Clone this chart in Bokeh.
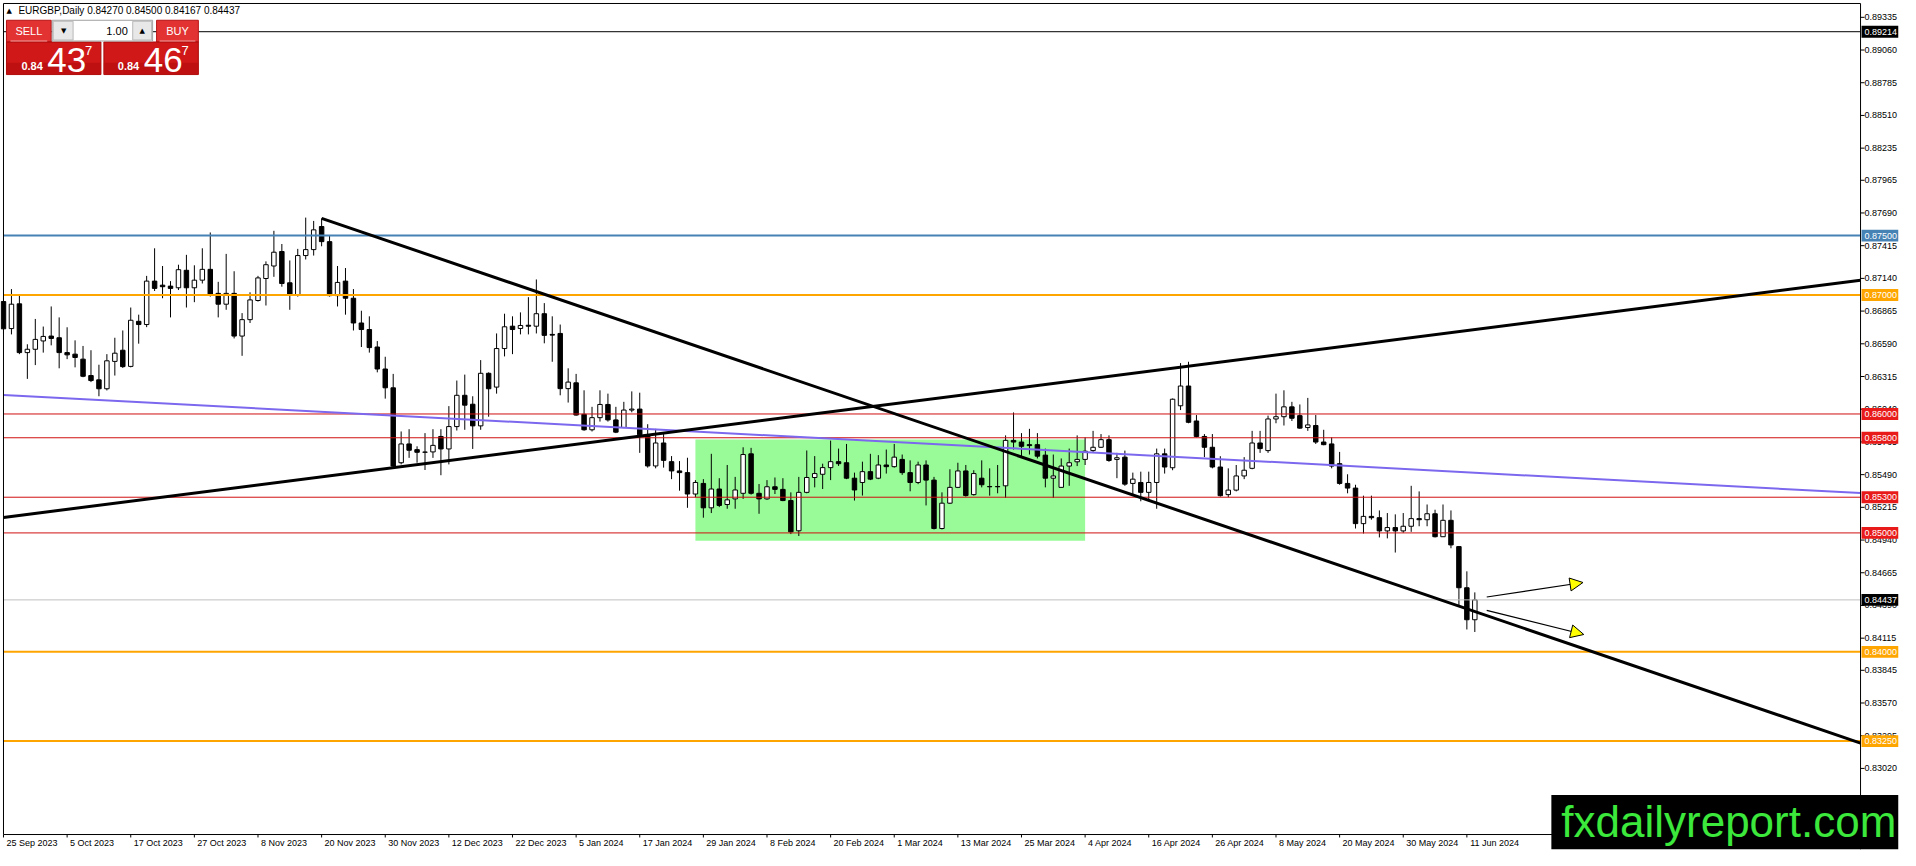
from bokeh.plotting import figure
from bokeh.models import (Range1d, FixedTicker, PrintfTickFormatter, Label, BoxAnnotation,
                          Arrow, NormalHead, ColumnDataSource)
from bokeh.embed import file_html
from bokeh.resources import INLINE
from bokeh.core.properties import value

# ---------------- data ----------------
symbol = "EURGBP,Daily"

opens = [
    0.86945, 0.86718, 0.86926, 0.86516, 0.86544, 0.86614, 0.86655, 0.86641, 0.86516, 0.86503,
    0.86461, 0.86323, 0.86287, 0.86212, 0.86442, 0.86536, 0.86400, 0.86779, 0.86752, 0.87117,
    0.87083, 0.87075, 0.87061, 0.87208, 0.87061, 0.87125, 0.87216, 0.87014, 0.86923, 0.87014,
    0.86655, 0.86793, 0.86954, 0.87139, 0.87244, 0.87366, 0.87103, 0.87000, 0.87332, 0.87382,
    0.87576, 0.87449, 0.86995, 0.87117, 0.86973, 0.86765, 0.86710, 0.86563, 0.86378, 0.86220,
    0.85590, 0.85748, 0.85700, 0.85678, 0.85681, 0.85811, 0.85706, 0.85894, 0.86157, 0.86082,
    0.85900, 0.86342, 0.86226, 0.86550, 0.86738, 0.86719, 0.86746, 0.86738, 0.86843, 0.86669,
    0.86677, 0.86213, 0.86262, 0.85997, 0.85867, 0.85969, 0.86080, 0.85950, 0.85886, 0.86033,
    0.86041, 0.85825, 0.85563, 0.85756, 0.85599, 0.85521, 0.85507, 0.85327, 0.85416, 0.85211,
    0.85369, 0.85239, 0.85286, 0.85333, 0.85665, 0.85333, 0.85286, 0.85388, 0.85366, 0.85272,
    0.85018, 0.85341, 0.85466, 0.85493, 0.85549, 0.85599, 0.85590, 0.85460, 0.85424, 0.85515,
    0.85460, 0.85571, 0.85557, 0.85618, 0.85507, 0.85424, 0.85571, 0.85444, 0.85037, 0.85250,
    0.85383, 0.85521, 0.85322, 0.85460, 0.85390, 0.85390, 0.85396, 0.85778, 0.85764, 0.85742,
    0.85742, 0.85654, 0.85460, 0.85383, 0.85562, 0.85598, 0.85618, 0.85692, 0.85720, 0.85784,
    0.85618, 0.85637, 0.85416, 0.85424, 0.85341, 0.85424, 0.85665, 0.85548, 0.86069, 0.86235,
    0.85941, 0.85811, 0.85720, 0.85554, 0.85322, 0.85360, 0.85479, 0.85543, 0.85756, 0.85692,
    0.85958, 0.85977, 0.86060, 0.85986, 0.85886, 0.85903, 0.85764, 0.85748, 0.85582, 0.85416,
    0.85377, 0.85078, 0.85139, 0.85128, 0.85017, 0.85045, 0.85017, 0.85056, 0.85120, 0.85111,
    0.85161, 0.84968, 0.85106, 0.84885, 0.84539, 0.84270,
]
highs = [
    0.86987, 0.87050, 0.86992, 0.86586, 0.86799, 0.86735, 0.86904, 0.86812, 0.86729, 0.86619,
    0.86572, 0.86536, 0.86414, 0.86503, 0.86641, 0.86702, 0.86895, 0.86835, 0.87161, 0.87393,
    0.87244, 0.87117, 0.87255, 0.87338, 0.87250, 0.87393, 0.87526, 0.87111, 0.87346, 0.87200,
    0.86848, 0.87023, 0.87161, 0.87283, 0.87540, 0.87429, 0.87291, 0.87388, 0.87651, 0.87623,
    0.87645, 0.87498, 0.87244, 0.87227, 0.87050, 0.86868, 0.86821, 0.86613, 0.86481, 0.86337,
    0.85853, 0.85872, 0.85728, 0.85839, 0.85872, 0.85872, 0.86066, 0.86281, 0.86331, 0.86149,
    0.86453, 0.86350, 0.86677, 0.86843, 0.86821, 0.86854, 0.86982, 0.87131, 0.86932, 0.86821,
    0.86752, 0.86384, 0.86337, 0.86199, 0.86060, 0.86199, 0.86171, 0.86060, 0.86102, 0.86190,
    0.86179, 0.85914, 0.85875, 0.85831, 0.85646, 0.85604, 0.85632, 0.85444, 0.85452, 0.85665,
    0.85460, 0.85571, 0.85471, 0.85720, 0.85715, 0.85411, 0.85444, 0.85466, 0.85460, 0.85341,
    0.85471, 0.85693, 0.85646, 0.85582, 0.85776, 0.85709, 0.85748, 0.85507, 0.85599, 0.85665,
    0.85654, 0.85701, 0.85748, 0.85659, 0.85610, 0.85599, 0.85610, 0.85471, 0.85341, 0.85535,
    0.85590, 0.85571, 0.85527, 0.85610, 0.85543, 0.85571, 0.85820, 0.86013, 0.85839, 0.85875,
    0.85839, 0.85709, 0.85659, 0.85626, 0.85709, 0.85820, 0.85803, 0.85858, 0.85831, 0.85820,
    0.85673, 0.85692, 0.85507, 0.85515, 0.85515, 0.85709, 0.85709, 0.86130, 0.86428, 0.86439,
    0.85991, 0.85831, 0.85831, 0.85645, 0.85543, 0.85571, 0.85637, 0.85858, 0.85858, 0.85986,
    0.86171, 0.86199, 0.86102, 0.86080, 0.86135, 0.85991, 0.85867, 0.85803, 0.85681, 0.85493,
    0.85405, 0.85313, 0.85313, 0.85189, 0.85167, 0.85156, 0.85167, 0.85396, 0.85349, 0.85239,
    0.85195, 0.85239, 0.85189, 0.84890, 0.84677, 0.84500,
]
lows = [
    0.86674, 0.86669, 0.86503, 0.86295, 0.86411, 0.86516, 0.86577, 0.86384, 0.86461, 0.86392,
    0.86309, 0.86268, 0.86149, 0.86198, 0.86323, 0.86387, 0.86392, 0.86591, 0.86730, 0.87034,
    0.86973, 0.86812, 0.87042, 0.86895, 0.86940, 0.87097, 0.86987, 0.86812, 0.86876, 0.86635,
    0.86489, 0.86765, 0.86945, 0.86912, 0.87153, 0.87070, 0.86876, 0.86987, 0.87299, 0.87332,
    0.87410, 0.86987, 0.86904, 0.86835, 0.86702, 0.86563, 0.86516, 0.86350, 0.86129, 0.85548,
    0.85576, 0.85631, 0.85590, 0.85529, 0.85631, 0.85485, 0.85576, 0.85861, 0.85867, 0.85706,
    0.85867, 0.85977, 0.86171, 0.86484, 0.86503, 0.86669, 0.86669, 0.86677, 0.86594, 0.86439,
    0.86157, 0.86096, 0.85986, 0.85859, 0.85853, 0.85936, 0.85936, 0.85839, 0.85881, 0.86014,
    0.85673, 0.85549, 0.85543, 0.85549, 0.85452, 0.85355, 0.85211, 0.85300, 0.85128, 0.85167,
    0.85217, 0.85203, 0.85203, 0.85286, 0.85322, 0.85161, 0.85278, 0.85327, 0.85267, 0.84990,
    0.84974, 0.85333, 0.85383, 0.85369, 0.85444, 0.85563, 0.85452, 0.85272, 0.85314, 0.85444,
    0.85452, 0.85499, 0.85549, 0.85488, 0.85350, 0.85410, 0.85231, 0.85029, 0.85029, 0.85244,
    0.85377, 0.85305, 0.85314, 0.85383, 0.85313, 0.85333, 0.85294, 0.85701, 0.85645, 0.85659,
    0.85626, 0.85383, 0.85294, 0.85383, 0.85396, 0.85562, 0.85571, 0.85681, 0.85714, 0.85598,
    0.85460, 0.85396, 0.85313, 0.85266, 0.85266, 0.85203, 0.85499, 0.85527, 0.86033, 0.85922,
    0.85803, 0.85637, 0.85543, 0.85305, 0.85300, 0.85349, 0.85452, 0.85535, 0.85673, 0.85673,
    0.85922, 0.85903, 0.85941, 0.85875, 0.85858, 0.85748, 0.85737, 0.85543, 0.85405, 0.85333,
    0.85037, 0.84995, 0.85111, 0.84962, 0.84954, 0.84835, 0.85001, 0.85009, 0.85056, 0.85056,
    0.84962, 0.84968, 0.84871, 0.84392, 0.84188, 0.84167,
]
closes = [
    0.86716, 0.86923, 0.86516, 0.86544, 0.86627, 0.86652, 0.86635, 0.86516, 0.86497, 0.86475,
    0.86317, 0.86281, 0.86212, 0.86447, 0.86511, 0.86398, 0.86788, 0.86752, 0.87117, 0.87056,
    0.87070, 0.87056, 0.87213, 0.87061, 0.87125, 0.87216, 0.87006, 0.86923, 0.87014, 0.86655,
    0.86793, 0.86959, 0.87144, 0.87255, 0.87360, 0.87097, 0.87006, 0.87332, 0.87382, 0.87548,
    0.87449, 0.86995, 0.87106, 0.86973, 0.86765, 0.86710, 0.86558, 0.86378, 0.86220, 0.85562,
    0.85748, 0.85695, 0.85678, 0.85680, 0.85736, 0.85706, 0.85894, 0.86157, 0.86074, 0.85900,
    0.86342, 0.86212, 0.86550, 0.86733, 0.86710, 0.86744, 0.86738, 0.86843, 0.86661, 0.86663,
    0.86213, 0.86268, 0.85991, 0.85867, 0.85969, 0.86080, 0.85950, 0.85847, 0.86033, 0.86041,
    0.85825, 0.85563, 0.85756, 0.85610, 0.85521, 0.85507, 0.85327, 0.85424, 0.85211, 0.85369,
    0.85231, 0.85278, 0.85361, 0.85659, 0.85333, 0.85286, 0.85388, 0.85366, 0.85272, 0.85009,
    0.85341, 0.85466, 0.85499, 0.85549, 0.85599, 0.85582, 0.85460, 0.85361, 0.85515, 0.85452,
    0.85571, 0.85557, 0.85637, 0.85507, 0.85424, 0.85571, 0.85444, 0.85037, 0.85250, 0.85383,
    0.85521, 0.85314, 0.85499, 0.85405, 0.85388, 0.85388, 0.85778, 0.85764, 0.85728, 0.85734,
    0.85645, 0.85460, 0.85479, 0.85562, 0.85590, 0.85618, 0.85687, 0.85720, 0.85784, 0.85609,
    0.85632, 0.85410, 0.85452, 0.85341, 0.85424, 0.85665, 0.85554, 0.86124, 0.86235, 0.85930,
    0.85811, 0.85720, 0.85554, 0.85313, 0.85360, 0.85479, 0.85527, 0.85756, 0.85709, 0.85958,
    0.85977, 0.86060, 0.85964, 0.85881, 0.85908, 0.85764, 0.85742, 0.85562, 0.85416, 0.85377,
    0.85078, 0.85139, 0.85128, 0.85017, 0.85045, 0.85017, 0.85056, 0.85120, 0.85111, 0.85161,
    0.84968, 0.85106, 0.84899, 0.84539, 0.84270, 0.84437,
]

date_labels = ["25 Sep 2023", "5 Oct 2023", "17 Oct 2023", "27 Oct 2023", "8 Nov 2023",
               "20 Nov 2023", "30 Nov 2023", "12 Dec 2023", "22 Dec 2023", "5 Jan 2024",
               "17 Jan 2024", "29 Jan 2024", "8 Feb 2024", "20 Feb 2024", "1 Mar 2024",
               "13 Mar 2024", "25 Mar 2024", "4 Apr 2024", "16 Apr 2024", "26 Apr 2024",
               "8 May 2024", "20 May 2024", "30 May 2024", "11 Jun 2024"]
date_ticks = [0, 8, 16, 24, 32, 40, 48, 56, 64, 72, 80, 88, 96, 104, 112, 120,
              128, 136, 144, 152, 160, 168, 176, 184]

price_ticks = [0.89335, 0.89060, 0.88785, 0.88510, 0.88235, 0.87965, 0.87690, 0.87415,
               0.87140, 0.86865, 0.86590, 0.86315, 0.86040, 0.85765, 0.85490, 0.85215,
               0.84940, 0.84665, 0.84390, 0.84115, 0.83845, 0.83570, 0.83295, 0.83020,
               0.82745]

black_levels = [0.89214]
blue_levels = [0.87500]
orange_levels = [0.87000, 0.84000, 0.83250]
red_levels = [0.86000, 0.85800, 0.85300, 0.85000]
current_price = 0.84437
sell_price = 0.84437
buy_price = 0.84467
lot_size = 1.00

# analysis objects (bar index, price)
down_trend_x = [40, 233.5]
down_trend_y = [0.87645, 0.83233]
up_trend_x = [0, 233.5]
up_trend_y = [0.85130, 0.87124]
mid_line_x = [0, 233.5]
mid_line_y = [0.86160, 0.85335]
range_box_x = [87, 136]
range_box_y = [0.84935, 0.85785]
arrow_x0 = [186.5, 186.5]
arrow_y0 = [0.84461, 0.84349]
arrow_x1 = [198.6, 198.7]
arrow_y1 = [0.84583, 0.84146]

# ---------------- layout helpers ----------------
W, H = 1900, 850
FONT = "Liberation Sans"


def X(px):
    """reference-picture pixel column -> bar index"""
    return (px - 3) / 8.0


def Y(py):
    """reference-picture pixel row -> price"""
    return 0.89335 - (py - 17) / 12051.0


# chart area of the reference (3..1871 x 3..845) is placed on canvas 3..1862 x 3..835
A = (1862.0 - 3) / (1871 - 3)
B = (835.0 - 3) / (845 - 3)
PXB = 8.0 * A                   # canvas pixels per bar
CH_L, CH_R = X(3), X(1871)
CH_T, CH_B = Y(3), Y(845)
R_LEFT, R_RIGHT = X(3 - 3 / A), X(3 + (W - 3) / A)
R_BOTTOM, R_TOP = Y(3 + (H - 3) / B), Y(3 - 3 / B)

p = figure(width=W, height=H, x_range=Range1d(R_LEFT, R_RIGHT),
           y_range=Range1d(R_BOTTOM, R_TOP),
           output_backend="svg", toolbar_location=None, y_axis_location="right",
           min_border_left=0, min_border_top=0, min_border_right=0, min_border_bottom=0,
           background_fill_color="white", border_fill_color="white", outline_line_color=None)
p.grid.visible = False

# ---- axes: real Bokeh axes, labels drawn inside the price / time columns ----
CW = {"0": .556, "1": .556, "2": .556, "3": .556, "4": .556, "5": .556, "6": .556, "7": .556,
      "8": .556, "9": .556, " ": .278, "S": .667, "O": .778, "N": .722, "D": .722, "J": .5,
      "F": .611, "M": .833, "A": .667, "e": .556, "p": .556, "c": .5, "t": .278, "o": .556,
      "v": .5, "a": .556, "n": .556, "b": .556, "r": .333, "y": .5, "u": .556}
label_centers = [round(t + (3 + 9 * sum(CW.get(ch, .556) for ch in s) / 2) / PXB, 3)
                 for t, s in zip(date_ticks, date_labels)]
p.xaxis.ticker = FixedTicker(ticks=label_centers)
p.xaxis.major_label_overrides = {c: s for c, s in zip(label_centers, date_labels)}
p.xaxis.major_label_standoff = -12
p.yaxis.ticker = FixedTicker(ticks=price_ticks)
p.yaxis.formatter = PrintfTickFormatter(format="%.5f")
p.yaxis.major_label_standoff = -34
for ax in (p.xaxis, p.yaxis):
    ax.axis_line_color = None
    ax.major_tick_line_color = None
    ax.minor_tick_line_color = None
    ax.major_tick_in = 0
    ax.major_tick_out = 0
    ax.major_label_text_font = FONT
    ax.major_label_text_font_size = "9px"
    ax.major_label_text_color = "black"

# range rectangle (background)
p.quad(left=[range_box_x[0]], right=[range_box_x[1]], bottom=[range_box_y[0]], top=[range_box_y[1]],
       fill_color="#98FB98", line_color=None)

# candles
xs = list(range(len(opens)))
body_top = [max(o, c) for o, c in zip(opens, closes)]
body_bot = [min(o, c) for o, c in zip(opens, closes)]
fills = ["white" if c >= o else "black" for o, c in zip(opens, closes)]
src = ColumnDataSource(dict(x=xs, h=highs, l=lows, t=body_top, b=body_bot, f=fills))
p.segment(x0="x", y0="l", x1="x", y1="h", source=src, line_color="black", line_width=1)
p.vbar(x="x", width=0.56, top="t", bottom="b", source=src, fill_color="f",
       line_color="black", line_width=1)


# horizontal levels (stop at the price scale)
def hlines(levels, color, width):
    p.segment(x0=[CH_L] * len(levels), x1=[CH_R] * len(levels), y0=levels, y1=levels,
              line_color=color, line_width=width)


hlines(black_levels, "black", 1)
hlines(blue_levels, "#4682B4", 2)
hlines(orange_levels, "#FFA500", 2)
hlines(red_levels, "#D01010", 1)
hlines([current_price], "#C0C0C0", 1)

# trend lines
p.line(mid_line_x, mid_line_y, line_color="#7B68EE", line_width=2)
p.line(up_trend_x, up_trend_y, line_color="black", line_width=3)
p.line(down_trend_x, down_trend_y, line_color="black", line_width=3)

# chart frame: left / top borders, time axis line, price axis line and tick marks
p.segment(x0=[CH_L, CH_L, CH_L, CH_R], y0=[CH_B, CH_T, CH_B, R_BOTTOM],
          x1=[CH_L, CH_R, CH_R, CH_R], y1=[CH_T, CH_T, CH_B, CH_T],
          line_color="black", line_width=1)
p.segment(x0=[CH_R] * len(price_ticks), x1=[CH_R + 4 / 8.0] * len(price_ticks),
          y0=price_ticks, y1=price_ticks, line_color="black", line_width=1)
p.segment(x0=date_ticks, x1=date_ticks, y0=[CH_B] * len(date_ticks),
          y1=[Y(848)] * len(date_ticks), line_color="black", line_width=1)

# arrows
asrc = ColumnDataSource(dict(x0=arrow_x0, y0=arrow_y0, x1=arrow_x1, y1=arrow_y1))
p.add_layout(Arrow(end=NormalHead(size=13, fill_color="yellow", line_color="black", line_width=1),
                   x_start="x0", y_start="y0", x_end="x1", y_end="y1", source=asrc,
                   line_color="black", line_width=1.2))

# price tags on the price scale
tags = ([(v, "black") for v in black_levels] + [(v, "#4682B4") for v in blue_levels] +
        [(v, "#FFA500") for v in orange_levels] + [(v, "#E81A1A") for v in red_levels] +
        [(current_price, "black")])
half = 6 / 12051.0
for v, col in tags:
    p.add_layout(BoxAnnotation(left=CH_R + 1 / 8.0, right=R_RIGHT, top=v + half,
                               bottom=v - half, fill_color=col, fill_alpha=1.0, line_color=None))
    p.add_layout(Label(x=CH_R, y=v, x_offset=4, text="%.5f" % v, text_font=FONT,
                       text_font_size="9px", text_color="white", text_align="left",
                       text_baseline="middle"))

# ---------------- one-click trading panel ----------------
p.quad(left=[X(6), X(157)], right=[X(51), X(199)], top=[Y(20), Y(20)], bottom=[Y(42), Y(42)],
       fill_color="#E23232", line_color="#B81414")
p.quad(left=[X(6), X(104)], right=[X(101), X(199)], top=[Y(42), Y(42)], bottom=[Y(75), Y(75)],
       fill_color="#D01818", line_color="#A80C0C")
p.quad(left=[X(6), X(104)], right=[X(101), X(199)], top=[Y(63), Y(63)], bottom=[Y(75), Y(75)],
       fill_color="#BE1010", line_color=None)
p.quad(left=[X(52)], right=[X(153)], top=[Y(20)], bottom=[Y(41)],
       fill_color="white", line_color="#A0A0A0")
p.quad(left=[X(53), X(133)], right=[X(73), X(152)], top=[Y(21), Y(21)], bottom=[Y(40), Y(40)],
       fill_color="#E8E8E8", line_color="#B8B8B8")
p.segment(x0=[X(10), X(160)], y0=[Y(41), Y(41)], x1=[X(47), X(196)], y1=[Y(41), Y(41)],
          line_color="#F4A0A0", line_width=1)

p.text(x=[X(28.5), X(178)], y=[Y(31), Y(31)], text=["SELL", "BUY"], text_color="white",
       text_font=value(FONT), text_font_size=value("11px"), text_align="center",
       text_baseline="middle")
p.text(x=[X(63.5), X(142.5)], y=[Y(30.5), Y(30.5)], text=["▼", "▲"], text_color="black",
       text_font=value("DejaVu Sans"), text_font_size=value("7px"), text_align="center",
       text_baseline="middle")
p.text(x=[X(128)], y=[Y(30.5)], text=["%.2f" % lot_size], text_color="black",
       text_font=value(FONT), text_font_size=value("11px"), text_align="right",
       text_baseline="middle")


def split_price(v):
    s = "%.5f" % v
    return s[:4], s[4:6], s[6]


sp = split_price(sell_price)
bp = split_price(buy_price)
p.text(x=[X(21), X(118)], y=[Y(66), Y(66)], text=[sp[0], bp[0]], text_color="white",
       text_font=value(FONT), text_font_size=value("11px"), text_font_style="bold",
       text_align="left", text_baseline="middle")
p.text(x=[X(47), X(144)], y=[Y(60), Y(60)], text=[sp[1], bp[1]], text_color="white",
       text_font=value(FONT), text_font_size=value("35px"), text_align="left",
       text_baseline="middle")
p.text(x=[X(85), X(182)], y=[Y(51), Y(51)], text=[sp[2], bp[2]], text_color="white",
       text_font=value(FONT), text_font_size=value("13px"), text_align="left",
       text_baseline="middle")

# header text
p.text(x=[X(6)], y=[Y(10.5)], text=["▲"], text_color="black", text_font=value("DejaVu Sans"),
       text_font_size=value("7px"), text_align="left", text_baseline="middle")
header = "%s  %.5f %.5f %.5f %.5f" % (symbol, opens[-1], highs[-1], lows[-1], closes[-1])
p.text(x=[X(18)], y=[Y(10.5)], text=[header], text_color="black", text_font=value(FONT),
       text_font_size=value("10px"), text_align="left", text_baseline="middle")

# watermark
p.add_layout(BoxAnnotation(left=X(1560), right=R_RIGHT, top=Y(805), bottom=R_BOTTOM,
                           fill_color="black", fill_alpha=1.0, line_color=None))
p.add_layout(Label(x=X(1570), y=Y(832), text="fxdailyreport.com", text_font=FONT,
                   text_font_size="44px", text_color="#3BE83B", text_align="left",
                   text_baseline="middle"))

open("out.html", "w").write(file_html(p, INLINE))
